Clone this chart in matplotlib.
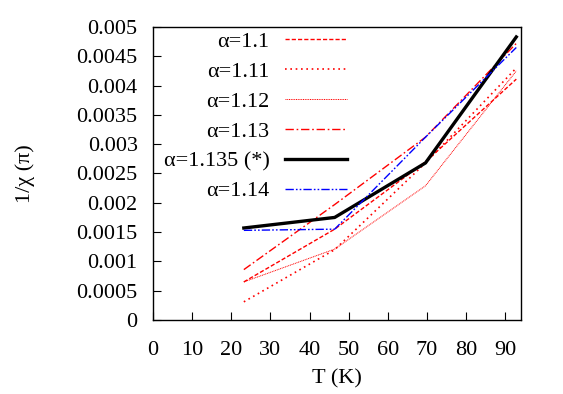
import matplotlib
matplotlib.use("Agg")
import matplotlib.pyplot as plt

T = [23.2, 46.4, 69.6, 92.8]
labels = ["α=1.1", "α=1.11", "α=1.12", "α=1.13", "α=1.135 (*)", "α=1.14"]
y_a110 = [0.00065, 0.00155, 0.00270, 0.00411]
y_a111 = [0.00031, 0.00120, 0.00268, 0.00430]
y_a112 = [0.00065, 0.00121, 0.00229, 0.00425]
y_a113 = [0.00086, 0.00197, 0.00312, 0.00472]
y_a1135 = [0.00157, 0.00175, 0.00268, 0.00483]
y_a114 = [0.00153, 0.00155, 0.00312, 0.00465]
xticks = [0, 10, 20, 30, 40, 50, 60, 70, 80, 90]
yticks = [0, 0.0005, 0.001, 0.0015, 0.002, 0.0025, 0.003, 0.0035, 0.004, 0.0045, 0.005]
ytick_labels = ["0", "0.0005", "0.001", "0.0015", "0.002", "0.0025", "0.003",
                "0.0035", "0.004", "0.0045", "0.005"]

plt.rcParams['font.family'] = ['Liberation Serif', 'DejaVu Serif']
plt.rcParams['font.size'] = 16

fig = plt.figure(figsize=(5.63, 3.94), dpi=100)
ax = fig.add_axes([0.2718, 0.1878, 0.9254 - 0.2718, 0.9315 - 0.1878])

series = [y_a110, y_a111, y_a112, y_a113, y_a1135, y_a114]
styles = [
    dict(color="red", lw=1.0, ls=(0, (3, 1.5))),
    dict(color="red", lw=1.2, ls=(0, (1, 2.2))),
    dict(color="red", lw=0.7, ls=(0, (1, 0.8))),
    dict(color="red", lw=1.0, ls=(0, (6, 2, 1.2, 2))),
    dict(color="black", lw=2.4, ls="-"),
    dict(color="blue", lw=1.0, ls=(0, (6, 1.5, 1.2, 1.5, 1.2, 1.5))),
]
for ys, lab, st in zip(series, labels, styles):
    ax.plot(T, ys, label=lab, **st)

ax.set_xlim(0, 94)
ax.set_ylim(0, 0.005)
ax.set_xticks(xticks)
ax.set_yticks(yticks)
ax.set_yticklabels(ytick_labels)
ax.tick_params(direction="in", length=6, width=0.8, top=False, right=False)
ax.tick_params(axis="x", pad=15)
ax.tick_params(axis="y", pad=11)
for s in ax.spines.values():
    s.set_linewidth(1.0)

ax.set_xlabel("T (K)", labelpad=7)
ax.set_ylabel("1/χ (π)", labelpad=30)

ax.legend(loc="upper right", bbox_to_anchor=(0.527, 0.985), frameon=False,
          markerfirst=False, handlelength=2.8, handletextpad=0.68,
          labelspacing=0.42, borderpad=0, borderaxespad=0)

fig.savefig("out.png", dpi=100)
